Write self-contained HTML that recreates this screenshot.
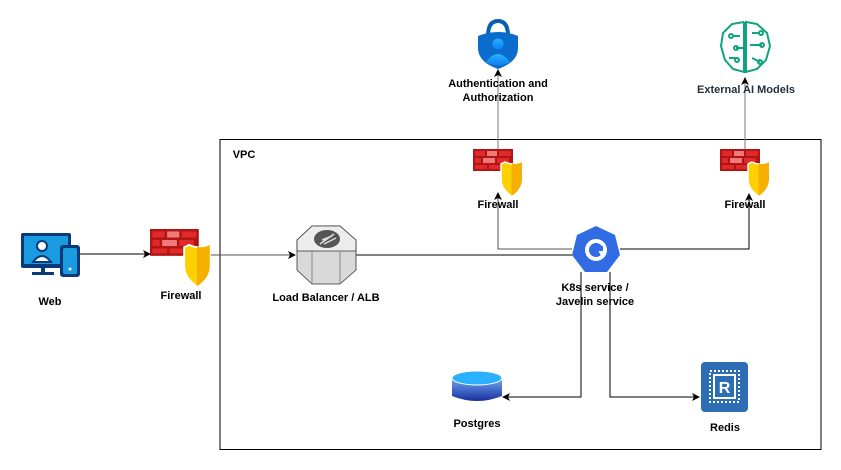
<!DOCTYPE html>
<html><head><meta charset="utf-8"><style>
html,body{margin:0;padding:0;background:#fff;}
svg{display:block;}
text{font-family:"Liberation Sans",Arial,sans-serif;font-weight:bold;font-size:11px;fill:#000;text-anchor:middle;}
</style></head><body>
<svg width="841" height="470" viewBox="0 0 841 470" xmlns="http://www.w3.org/2000/svg">
<defs>
<marker id="a" markerWidth="8" markerHeight="8" refX="7" refY="4" orient="auto" markerUnits="userSpaceOnUse"><path d="M0,0 L8,4 L0,8 L2,4z" fill="#000"/></marker>
<linearGradient id="pg" x1="0" y1="0" x2="0" y2="1"><stop offset="0" stop-color="#6fa8f0"/><stop offset="1" stop-color="#1a2fa0"/></linearGradient>
<linearGradient id="pt" x1="0" y1="0" x2="0" y2="1"><stop offset="0" stop-color="#2ab0ff"/><stop offset="1" stop-color="#0a7ff0"/></linearGradient>
<g id="fw">
<rect x="0" y="0" width="40" height="22" fill="#b01515"/>
<g fill="#e02a2a"><rect x="2" y="2" width="10" height="5"/><rect x="14" y="2" width="10" height="5" fill="#f07a7a"/><rect x="26" y="2" width="12" height="5"/><rect x="2" y="9" width="6" height="5"/><rect x="10" y="9" width="12" height="5" fill="#f07a7a"/><rect x="24" y="9" width="12" height="5"/><rect x="2" y="16" width="12" height="4"/><rect x="16" y="16" width="12" height="4"/></g>
<path d="M32,13 Q40,17 49,13 L49,30 Q49,40 38.5,47 Q28,40 28,30 L28,15 Z" fill="#ffd000" stroke="#fff" stroke-width="1.5"/>
<path d="M38.5,14.5 L38.5,47 Q49,40 49,30 L49,13 Q44,16 38.5,14.5Z" fill="#f5b000"/>
</g>
</defs>
<rect x="220" y="139.5" width="601" height="310" fill="none" stroke="#000" stroke-width="1"/>
<text x="244" y="158" style="font-size:11px">VPC</text>

<!-- connectors -->
<line x1="80" y1="254" x2="150" y2="254" stroke="#000" marker-end="url(#a)"/>
<line x1="210" y1="255" x2="295" y2="255" stroke="#555" marker-end="url(#a)"/>
<line x1="356" y1="255" x2="574" y2="255" stroke="#000"/>
<polyline points="572,249 498,249 498,193" fill="none" stroke="#555" marker-end="url(#a)"/>
<line x1="498" y1="150" x2="498" y2="70" stroke="#777" marker-end="url(#a)"/>
<polyline points="620,249 749,249 749,194" fill="none" stroke="#000" marker-end="url(#a)"/>
<line x1="745" y1="150" x2="745" y2="78" stroke="#777" marker-end="url(#a)"/>
<polyline points="581,272 581,397 503,397" fill="none" stroke="#000" marker-end="url(#a)"/>
<polyline points="610,272 610,397 699,397" fill="none" stroke="#000" marker-end="url(#a)"/>

<!-- Web icon -->
<rect x="21" y="233" width="50" height="35" rx="2" fill="#0b3a7a"/>
<rect x="24" y="236" width="44" height="28" fill="#1a9be0"/>
<circle cx="42" cy="246" r="5" fill="#fff" stroke="#0b3a7a" stroke-width="2"/>
<path d="M33,262 Q42,250 51,262Z" fill="#fff" stroke="#0b3a7a" stroke-width="2"/>
<rect x="41" y="268" width="4" height="5" fill="#0b3a7a"/><rect x="32" y="272" width="22" height="3" fill="#0b3a7a"/>
<rect x="60" y="245" width="20" height="32" rx="3" fill="#0b3a7a"/><rect x="63" y="248" width="14" height="26" rx="2" fill="#1a9be0"/>
<circle cx="70" cy="269" r="1.5" fill="#fff"/>
<text x="50" y="305">Web</text>

<use href="#fw" transform="translate(150,229) scale(1.22)"/>
<text x="181" y="299">Firewall</text>

<!-- LB -->
<path d="M312,226 L340,226 L356,240 L356,270 L340,284 L312,284 L297,270 L297,240Z" fill="#d9d9d9" stroke="#333" stroke-width="0.8"/>
<path d="M312,226 L340,226 L356,240 L356,251 L297,251 L297,240Z" fill="#ededed" stroke="#333" stroke-width="0.8"/>
<path d="M312,251 L312,284 M340,251 L340,284" stroke="#888"/>
<ellipse cx="327" cy="239" rx="13" ry="9" fill="#555"/>
<path d="M320,244 L334,234 M324,244 L336,238 M322,240 L332,236" stroke="#ddd" stroke-width="1.5"/>
<text x="326" y="301">Load Balancer / ALB</text>

<!-- K8s -->
<path d="M596,226 L615,235 L620,255 L607,272 L585,272 L572,255 L577,235Z" fill="#326ce5"/>
<circle cx="596" cy="250" r="9" fill="none" stroke="#fff" stroke-width="4"/>
<path d="M598,250 L606,250 L602,258Z" fill="#fff"/>
<rect x="595" y="246" width="8" height="5" fill="#326ce5"/>
<text x="595" y="291">K8s service /</text>
<text x="595" y="305">Javelin service</text>

<!-- firewalls in VPC -->
<use href="#fw" x="473" y="149"/>
<text x="498" y="208">Firewall</text>
<use href="#fw" x="720" y="149"/>
<text x="745" y="208">Firewall</text>

<!-- Auth -->
<path d="M488,36 Q488,21 498,21 Q508,21 508,36" fill="none" stroke="#0a5fb0" stroke-width="4"/>
<path d="M478,36 Q498,28 518,36 L518,48 Q518,62 498,69 Q478,62 478,48Z" fill="#0a6ccc"/>
<circle cx="498" cy="44" r="5.5" fill="url(#pt)"/>
<path d="M486,62 Q498,46 510,62 Q498,69 486,62Z" fill="url(#pt)"/>
<text x="498" y="87">Authentication and</text>
<text x="498" y="101">Authorization</text>

<!-- AI brain -->
<g fill="none" stroke="#10a37f" stroke-width="2">
<path d="M744,22 L732,24 L723,33 L721,46 L725,60 L733,69 L744,72 L744,22 M746,22 L757,24 L767,33 L770,46 L766,60 L757,69 L746,72Z"/>
<path d="M732,36 L740,36 M736,48 L744,48 M729,58 L738,58 M752,33 L760,33 M750,45 L762,45 M752,58 L760,62"/>
<circle cx="731" cy="36" r="2"/><circle cx="736" cy="48" r="2"/><circle cx="761" cy="33" r="2"/><circle cx="762" cy="45" r="2"/><circle cx="737" cy="60" r="2"/><circle cx="760" cy="62" r="2"/>
</g>
<text x="746" y="93" style="fill:#232f3e">External AI Models</text>

<!-- Postgres -->
<path d="M452,378 L452,396 Q477,406 502,396 L502,378Z" fill="url(#pg)"/>
<ellipse cx="477" cy="378" rx="25" ry="7" fill="#2ab0ff" stroke="#fff" stroke-width="1"/>
<text x="477" y="427">Postgres</text>

<!-- Redis -->
<rect x="701" y="362" width="47" height="50" rx="4" fill="#2d6db5"/>
<rect x="710" y="371" width="29" height="31" fill="none" stroke="#fff" stroke-width="2" stroke-dasharray="2 2"/>
<rect x="713" y="374" width="23" height="25" fill="#fff"/>
<rect x="715" y="376" width="19" height="21" fill="#2d6db5"/>
<text x="724.5" y="393" style="fill:#fff;font-size:16px">R</text>
<text x="725" y="431">Redis</text>
</svg>
</body></html>
